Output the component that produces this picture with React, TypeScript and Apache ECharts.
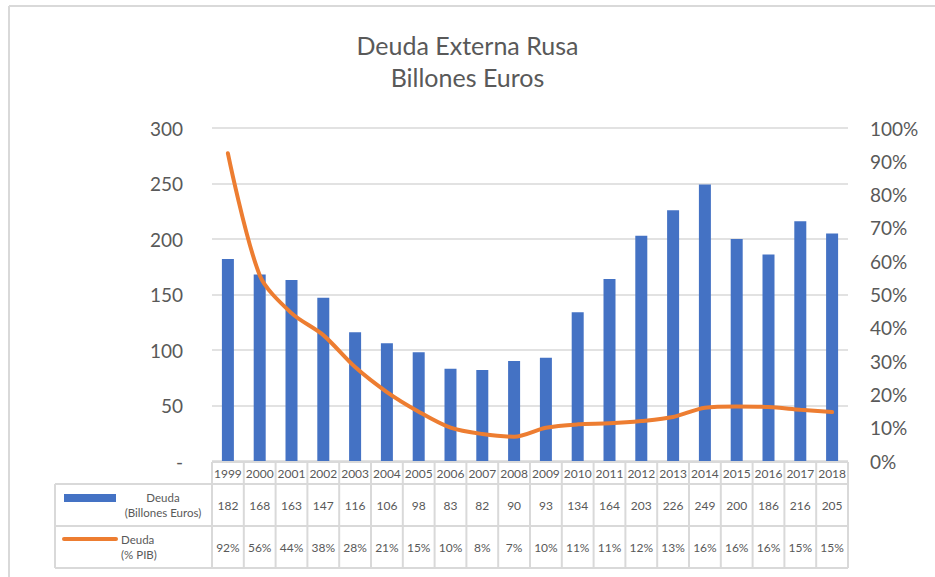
import React, { useEffect, useRef } from "react";
import * as echarts from "echarts";

const years = ["1999","2000","2001","2002","2003","2004","2005","2006","2007","2008","2009","2010","2011","2012","2013","2014","2015","2016","2017","2018"];
const debtBillions = [182,168,163,147,116,106,98,83,82,90,93,134,164,203,226,249,200,186,216,205];
const debtPctGdp = [0.924,0.558,0.444,0.378,0.282,0.207,0.148,0.1,0.081,0.073,0.1,0.11,0.113,0.12,0.132,0.16,0.164,0.162,0.154,0.147];
const leftTicks = [0, 50, 100, 150, 200, 250, 300];
const titleLines = ["Deuda Externa Rusa", "Billones Euros"];
const seriesNames = ["Deuda\n(Billones Euros)", "Deuda\n(% PIB)"];

const FONT = "Lato, 'Open Sans', sans-serif";
const GRAY = "#595959";
const BORDER = "#d9d9d9";
const BLUE = "#4472C4";
const ORANGE = "#ED7D31";

export default function App() {
  const ref = useRef<HTMLDivElement>(null);
  useEffect(() => {
    const chart = echarts.init(ref.current!, null, { renderer: "svg" });
    const gridLeft = 212, gridRight = 87, gridTop = 128, gridBottom = 116;
    chart.setOption({
      animation: false,
      backgroundColor: "#fff",
      title: {
        text: titleLines.join("\n"),
        left: "center",
        top: 24,
        textStyle: { fontFamily: FONT, fontSize: 25, fontWeight: "normal", color: GRAY, lineHeight: 32 },
      },
      grid: { left: gridLeft, right: gridRight, top: gridTop, bottom: gridBottom },
      xAxis: {
        type: "category",
        data: years,
        axisLine: { show: false },
        axisTick: { show: false },
        axisLabel: { show: false },
      },
      yAxis: [
        {
          type: "value",
          min: leftTicks[0],
          max: leftTicks[leftTicks.length - 1],
          interval: 50,
          axisLine: { show: false },
          axisTick: { show: false },
          splitLine: { lineStyle: { color: BORDER, width: 1.5 } },
          axisLabel: {
            fontFamily: FONT, fontSize: 19, color: GRAY, margin: 29,
            formatter: (v: number) => (v === 0 ? "-" : String(v)),
          },
        },
        {
          type: "value",
          min: 0,
          max: 1,
          interval: 0.1,
          axisLine: { show: false },
          axisTick: { show: false },
          splitLine: { show: false },
          axisLabel: {
            fontFamily: FONT, fontSize: 19, color: GRAY, margin: 22,
            formatter: (v: number) => Math.round(v * 100) + "%",
          },
        },
      ],
      series: [
        {
          name: "Deuda (Billones Euros)",
          type: "bar",
          data: debtBillions,
          barWidth: 12,
          itemStyle: { color: BLUE },
          yAxisIndex: 0,
        },
        {
          name: "Deuda (% PIB)",
          type: "line",
          data: debtPctGdp,
          yAxisIndex: 1,
          smooth: 0.3,
          showSymbol: false,
          lineStyle: { color: ORANGE, width: 4, cap: "round" },
          itemStyle: { color: ORANGE },
        },
      ],
    });

    // Data table built from the arrays, aligned with the category axis
    const W = 935;
    const plotL = gridLeft, plotR = W - gridRight;
    const n = years.length;
    const colW = (plotR - plotL) / n;
    const rowY = [462, 484, 526, 568];
    const legendL = 55;
    const els: any[] = [];
    els.push({ type: "line", shape: { x1: 9, y1: 6, x2: 935, y2: 6 }, style: { stroke: BORDER, lineWidth: 2 } });
    els.push({ type: "line", shape: { x1: 9, y1: 6, x2: 9, y2: 577 }, style: { stroke: BORDER, lineWidth: 2 } });
    els.push({ type: "line", shape: { x1: plotL, y1: rowY[0], x2: plotR, y2: rowY[0] }, style: { stroke: BORDER, lineWidth: 2 } });
    for (let r = 1; r < rowY.length; r++) {
      els.push({ type: "line", shape: { x1: legendL, y1: rowY[r], x2: plotR, y2: rowY[r] }, style: { stroke: BORDER, lineWidth: 2 } });
    }
    els.push({ type: "line", shape: { x1: legendL, y1: rowY[1], x2: legendL, y2: rowY[3] }, style: { stroke: BORDER, lineWidth: 2 } });
    for (let i = 0; i <= n; i++) {
      const x = plotL + i * colW;
      els.push({ type: "line", shape: { x1: x, y1: rowY[0], x2: x, y2: rowY[3] }, style: { stroke: BORDER, lineWidth: 2 } });
    }
    for (let i = 0; i < n; i++) {
      const cx = chart.convertToPixel({ xAxisIndex: 0 }, years[i]) as number;
      els.push({ type: "text", x: cx, y: (rowY[0] + rowY[1]) / 2, style: { text: years[i], fill: GRAY, font: `12px ${FONT}`, align: "center", verticalAlign: "middle" } });
      els.push({ type: "text", x: cx, y: (rowY[1] + rowY[2]) / 2, style: { text: String(debtBillions[i]), fill: GRAY, font: `12px ${FONT}`, align: "center", verticalAlign: "middle" } });
      els.push({ type: "text", x: cx, y: (rowY[2] + rowY[3]) / 2, style: { text: Math.round(debtPctGdp[i] * 100) + "%", fill: GRAY, font: `12px ${FONT}`, align: "center", verticalAlign: "middle" } });
    }
    els.push({ type: "rect", shape: { x: 64, y: 494, width: 52, height: 8 }, style: { fill: BLUE } });
    els.push({ type: "text", x: 163, y: 505, style: { text: seriesNames[0], fill: GRAY, font: `11.5px ${FONT}`, align: "center", verticalAlign: "middle", lineHeight: 15 } });
    els.push({ type: "line", shape: { x1: 64, y1: 539, x2: 116, y2: 539 }, style: { stroke: ORANGE, lineWidth: 4, lineCap: "round" } });
    els.push({ type: "text", x: 121, y: 547, style: { text: seriesNames[1], fill: GRAY, font: `11.5px ${FONT}`, align: "left", verticalAlign: "middle", lineHeight: 15 } });
    chart.setOption({ graphic: { elements: els } });

    return () => chart.dispose();
  }, []);
  return <div ref={ref} style={{ width: 935, height: 577, position: "absolute", left: 0, top: 0 }} />;
}
